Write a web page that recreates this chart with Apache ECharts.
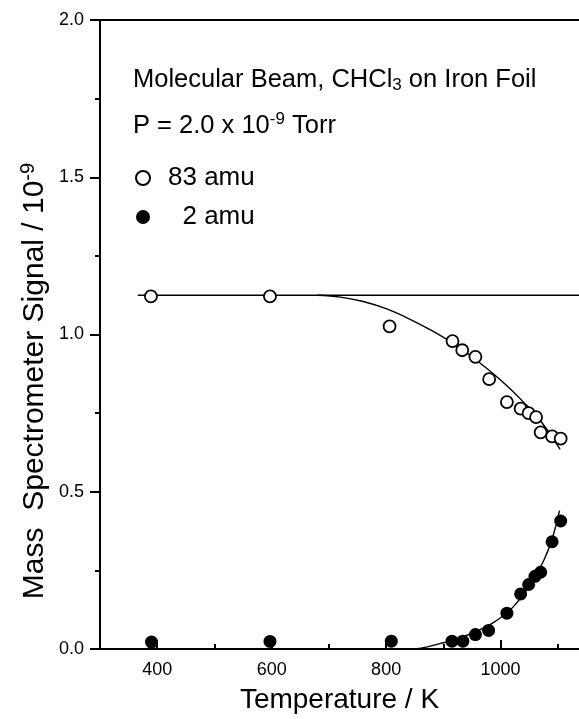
<!DOCTYPE html>
<html><head><meta charset="utf-8">
<script src="https://cdn.jsdelivr.net/npm/echarts@6/dist/echarts.min.js"></script>
<style>html,body{margin:0;padding:0;background:#fff}#c{width:579px;height:719px}</style>
</head><body><div id="c"></div>
<script>
const xTickLabels = [400, 600, 800, 1000];
const xMinorTicks = [500, 700, 900, 1100];
const yTickValues = [0, 0.5, 1.0, 1.5, 2.0];
const amu83 = [[389,1.121],[597,1.121],[806,1.026],[916,0.979],[933,0.950],[956,0.929],[980,0.858],[1011,0.785],[1035,0.764],[1049,0.750],[1062,0.737],[1070,0.689],[1090,0.676],[1105,0.669]];
const amu2 = [[390,0.022],[597,0.024],[809,0.025],[915,0.025],[934,0.025],[956,0.046],[979,0.059],[1011,0.114],[1035,0.175],[1049,0.205],[1060,0.231],[1070,0.244],[1090,0.341],[1105,0.407]];
const fit83Flat = [[366,1.125],[1137,1.125]];
const fit83 = [[680,1.125],[720,1.119],[760,1.105],[800,1.082],[840,1.050],[880,1.012],[920,0.968],[960,0.915],[1000,0.855],[1040,0.785],[1070,0.725],[1104,0.635]];
const fit2 = [[850,0.0],[870,0.006],[900,0.020],[930,0.036],[960,0.058],[990,0.087],[1020,0.130],[1050,0.200],[1075,0.280],[1090,0.350],[1103,0.440]];
const seriesNames = ['83 amu', '2 amu'];

const FONT = 'Liberation Sans, Arial, sans-serif';
const chart = echarts.init(document.getElementById('c'), null, {renderer: 'canvas'});
const black = '#000';
chart.setOption({
  animation: false,
  backgroundColor: '#fff',
  textStyle: {fontFamily: FONT, color: black},
  grid: {left: 100, top: 20, width: 479, bottom: 67, containLabel: false},
  xAxis: [
    {
      type: 'value', min: 300, max: 1137, position: 'bottom',
      axisLine: {show: true, onZero: false, lineStyle: {color: black, width: 2}},
      axisTick: {show: true, inside: true, length: 9, customValues: xTickLabels, lineStyle: {color: black, width: 2}},
      axisLabel: {show: true, customValues: xTickLabels, fontSize: 18, color: black, margin: 12, fontFamily: FONT, formatter: v => String(v)},
      splitLine: {show: false},
      name: 'Temperature / K', nameLocation: 'middle', nameGap: 37,
      nameTextStyle: {fontSize: 28, color: black, fontFamily: FONT}
    },
    {
      type: 'value', min: 300, max: 1137, position: 'bottom',
      axisLine: {show: false},
      axisTick: {show: true, inside: true, length: 5, customValues: xMinorTicks, lineStyle: {color: black, width: 2}},
      axisLabel: {show: false}, splitLine: {show: false}
    },
    {
      type: 'value', min: 300, max: 1137, position: 'top',
      axisLine: {show: true, onZero: false, lineStyle: {color: black, width: 2}},
      axisTick: {show: false}, axisLabel: {show: false}, splitLine: {show: false}
    }
  ],
  yAxis: {
    type: 'value', min: 0, max: 2, interval: 0.5,
    axisLine: {show: true, onZero: false, lineStyle: {color: black, width: 2}},
    axisTick: {show: true, inside: false, length: 10, customValues: yTickValues, lineStyle: {color: black, width: 2}},
    minorTick: {show: true, splitNumber: 2, length: 5, lineStyle: {color: black, width: 2}},
    axisLabel: {fontSize: 18, color: black, margin: 16, fontFamily: FONT, formatter: v => v.toFixed(1)},
    splitLine: {show: false}, minorSplitLine: {show: false}
  },
  legend: {
    show: true, orient: 'vertical', left: 135, top: 165, padding: 0,
    itemWidth: 40, itemHeight: 14, itemGap: 13,
    data: seriesNames,
    textStyle: {fontSize: 26, color: black, fontFamily: FONT, lineHeight: 24},
    formatter: n => (n === '2 amu' ? '  2 amu' : n)
  },
  graphic: [
    {
      type: 'text', left: 133, top: 67,
      style: {
        text: '{a|Molecular Beam, CHCl}{s|3}{a| on Iron Foil}',
        rich: {
          a: {fontSize: 25.5, fontFamily: FONT, fill: black},
          s: {fontSize: 17, fontFamily: FONT, fill: black, padding: [11, 0, 0, 0]}
        }
      }
    },
    {
      type: 'text', left: 133, top: 111,
      style: {
        text: '{a|P = 2.0 x 10}{s|-9}{a| Torr}',
        rich: {
          a: {fontSize: 25.5, fontFamily: FONT, fill: black},
          s: {fontSize: 17, fontFamily: FONT, fill: black, padding: [0, 0, 13, 0]}
        }
      }
    },
    {
      type: 'text', x: 35, y: 381, rotation: Math.PI / 2,
      style: {
        text: '{a|Mass  Spectrometer Signal / 10}{s|-9}',
        align: 'center', verticalAlign: 'middle',
        rich: {
          a: {fontSize: 30, fontFamily: FONT, fill: black},
          s: {fontSize: 20, fontFamily: FONT, fill: black, padding: [0, 0, 14, 0]}
        }
      }
    }
  ],
  series: [
    {
      name: '83 amu', type: 'scatter', data: amu83, symbol: 'circle', symbolSize: 12,
      itemStyle: {color: '#fff', borderColor: black, borderWidth: 1.8, opacity: 1}, z: 5
    },
    {
      name: '2 amu', type: 'scatter', data: amu2, symbol: 'circle', symbolSize: 13,
      itemStyle: {color: black, borderColor: black, borderWidth: 0, opacity: 1}, z: 5
    },
    {
      type: 'line', data: fit83Flat, showSymbol: false, symbol: 'none',
      lineStyle: {color: black, width: 1.4}, z: 3
    },
    {
      type: 'line', data: fit83, smooth: 0.4, showSymbol: false, symbol: 'none',
      lineStyle: {color: black, width: 1.4}, z: 3
    },
    {
      type: 'line', data: fit2, smooth: 0.4, showSymbol: false, symbol: 'none',
      lineStyle: {color: black, width: 1.4}, z: 3
    }
  ]
});
</script>
</body></html>
